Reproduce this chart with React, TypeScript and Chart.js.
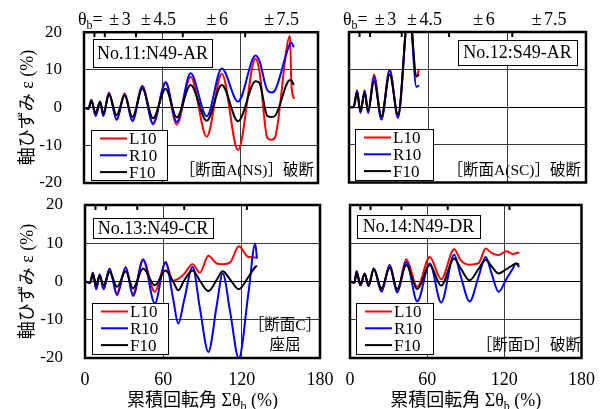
import React, { useEffect, useRef } from 'react';
import { Chart, registerables } from 'chart.js';

Chart.register(...registerables);

const PAGE_W = 606;
const PAGE_H = 409;
const FAM = "'Liberation Serif', 'Noto Sans CJK JP', serif";

// ---- cumulative rotation Σθb (%) and axial strain ε (%) per specimen ----

// No.11 : N49-AR
const x11 = [0, 3.5, 5.6, 9, 12.3, 14.9, 19.2, 25.1, 31.3, 37.2, 44.9, 53.1, 62.8, 71.3, 82, 94.4, 106, 118.5, 132, 135, 141, 144.4, 147, 158.5, 159.5, 161.5];
const L11 = [0, -0.3, 2, -2, 1.6, -2, 4, -3, 3.8, -3.3, 5.8, -4.1, 6.5, -4.5, 8.2, -7.7, 9, -11.3, 13, 9.5, -8, -8.5, -7.8, 19, 6.5, 2.3];
const R11 = [0, -0.3, 2, -2.2, 1.6, -2.2, 3.8, -3.3, 3.5, -3.6, 5.5, -4.4, 6.8, -3.8, 9.1, -2.3, 10.4, 1.6, 13.8, 12.3, 4.6, 4.0, 4.6, 17.0, 17.3, 16.0];
const F11 = [0, -0.3, 1.8, -1.5, 1.5, -1.5, 3.5, -2, 3.2, -2.5, 5, -2.8, 5, -2.6, 6, -3.5, 6, -3.6, 7, 6.5, -2.2, -2.5, -2.2, 7.3, 7.2, 6.0];

// No.12 : S49-AR
const x12 = [0, 3.5, 6.1, 8.7, 11.9, 14.5, 19, 24.6, 30.9, 37.2, 45.6, 51.2, 53.2];
const L12 = [0, 0, 4.5, -1.3, 4.5, -1.3, 8.7, -3, 10, -2.5, 27, 8.2, 10.2];
const R12 = [0, 0, 4.3, -1.5, 4.3, -1.5, 8.1, -3.3, 9.8, -2.8, 27, 5.4, 5.8];
const F12 = [0, 0, 3.8, -1, 3.8, -1, 6.9, -2.4, 8.7, -1.9, 27, 8.2, 8.7];

// No.13 : N49-CR
const x13 = [0, 4, 6, 8.6, 11.2, 14.2, 18.8, 24.5, 31.2, 36.8, 44.5, 53.5, 61.7, 67.5, 71.4, 76, 82.4, 88, 94.5, 101, 105.5, 111.2, 117.8, 125.2, 130.4, 131.7];
const L13 = [0, -0.3, 2.3, -2, 1.8, -2, 3.2, -3, 3.5, -3.3, 5.5, -2.7, 4.8, 0.2, 0.7, 2, 4.5, 2.3, 6.7, 4.7, 4.5, 5, 9.2, 6.4, 6.3, 6.4];
const R13 = [0, -0.3, 2.3, -2, 1.8, -2, 3.4, -3.6, 3.8, -3.8, 5.8, -5.7, 5.1, -4.5, -11, -4.8, 3.8, -7, -18.4, -6, 2.1, -8, -20.1, -3, 9.9, 6];
const F13 = [0, -0.3, 2, -1, 1.5, -1, 2.5, -1.4, 2.7, -1.8, 3.4, -1, 2.9, 0, -2.3, 0.3, 2.9, 0.2, -2.5, 0.5, 2.7, 0.5, -2, 1.2, 3.8, 4.1];

// No.14 : N49-DR
const x14 = [0, 3.5, 5.1, 8.1, 11.4, 14.4, 18.5, 24.5, 30.9, 36.7, 43.8, 52.3, 62, 70.9, 81, 86, 93, 100, 105.5, 110, 115.5, 121.5, 126.6, 129, 131.6];
const L14 = [0, -0.3, 2.7, -1, 2.1, -1.2, 3.4, -2.4, 4.3, -2.6, 5.8, -1.4, 6.4, 0.6, 8.4, 5.6, 4.4, 4.8, 8.6, 7.5, 6.9, 7.9, 7.2, 7.4, 7.6];
const R14 = [0, -0.3, 2.7, -1, 2.1, -1.2, 3.4, -2.7, 4.3, -2.9, 5.1, -5.2, 4.7, -5.5, 7, 1.5, -5.2, 1.3, 6.4, 2.2, -2.7, 0.6, 3.4, 4.7, 3.8];
const F14 = [0, -0.3, 2.4, -0.8, 2, -1, 3.2, -1.8, 3.6, -2, 4.3, -2, 4.3, -1.1, 6, 3.5, 0.3, 3.3, 5.6, 4.0, 2.1, 3.2, 4.3, 4.7, 4.4];

// ---- axes, loading stages, legend ----
const X_MIN = 0;
const X_MAX = 180;
const X_STEP = 60;
const Y_MIN = -20;
const Y_MAX = 20;
const Y_STEP = 10;
const stageMarks = [8, 16, 40, 76, 124];
const thetaLabels = ['±3', '±4.5', '±6', '±7.5'];
const thetaLabelAt = [27.7, 57.3, 102.5, 152];
const seriesNames = ['L10', 'R10', 'F10'];
const seriesColors = ['#ff0000', '#0000ff', '#000000'];
const yTitle = '軸ひずみ ε (%)';
const xTitleMain = '累積回転角 Σθ';
const xTitleSub = 'b';
const xTitleTail = ' (%)';

type Rect = { l: number; t: number; r: number; b: number };
type Note = { text: string; x: number; y: number; align: CanvasTextAlign };
interface PanelSpec {
  name: string;
  xs: number[];
  series: number[][];
  area: Rect;
  yLabels: boolean;
  xLabels: boolean;
  topLabels: boolean;
  titleBox: Rect;
  legendBox: Rect;
  notes: Note[];
}

const panels: PanelSpec[] = [
  {
    name: 'No.11:N49-AR',
    xs: x11,
    series: [L11, R11, F11],
    area: { l: 84, t: 32, r: 318, b: 183 },
    yLabels: true,
    xLabels: false,
    topLabels: true,
    titleBox: { l: 93, t: 39, r: 212, b: 67 },
    legendBox: { l: 91, t: 130, r: 167, b: 180 },
    notes: [{ text: '［断面A(NS)］破断', x: 314, y: 175, align: 'right' }],
  },
  {
    name: 'No.12:S49-AR',
    xs: x12,
    series: [L12, R12, F12],
    area: { l: 349, t: 32, r: 586, b: 182.5 },
    yLabels: false,
    xLabels: false,
    topLabels: true,
    titleBox: { l: 458, t: 40, r: 577, b: 65 },
    legendBox: { l: 355, t: 129, r: 433, b: 180 },
    notes: [{ text: '［断面A(SC)］破断', x: 581, y: 175, align: 'right' }],
  },
  {
    name: 'No.13:N49-CR',
    xs: x13,
    series: [L13, R13, F13],
    area: { l: 85, t: 205, r: 320, b: 358 },
    yLabels: true,
    xLabels: true,
    topLabels: false,
    titleBox: { l: 93, t: 218, r: 213, b: 238 },
    legendBox: { l: 92, t: 303, r: 168, b: 354 },
    notes: [
      { text: '［断面C］', x: 285, y: 330, align: 'center' },
      { text: '座屈', x: 285, y: 350, align: 'center' },
    ],
  },
  {
    name: 'No.14:N49-DR',
    xs: x14,
    series: [L14, R14, F14],
    area: { l: 350, t: 205, r: 586, b: 358 },
    yLabels: false,
    xLabels: true,
    topLabels: false,
    titleBox: { l: 357, t: 215, r: 480, b: 238 },
    legendBox: { l: 356, t: 303, r: 433, b: 354 },
    notes: [{ text: '［断面D］破断', x: 581, y: 350, align: 'right' }],
  },
];

function font(size: number) {
  return `${size}px ${FAM}`;
}

// draws "±" and the amplitude with a small gap, centred on cx
function drawAmplitude(ctx: CanvasRenderingContext2D, text: string, cx: number, base: number) {
  const sign = text.slice(0, 1);
  const num = text.slice(1);
  const gap = 2.5;
  const ws = ctx.measureText(sign).width;
  const wn = ctx.measureText(num).width;
  const start = cx - (ws + gap + wn) / 2;
  ctx.textAlign = 'left';
  ctx.fillText(sign, start, base);
  ctx.fillText(num, start + ws + gap, base);
}

// Frame, stage marks, θb labels, title box, legend box, notes and x title
function decorPlugin(p: PanelSpec) {
  return {
    id: 'panelDecor',
    afterDraw(chart: any) {
      const { ctx, chartArea: a, scales } = chart;
      const xs = scales.x;
      ctx.save();
      ctx.fillStyle = '#000';
      ctx.strokeStyle = '#000';

      // loading stage marks hanging from the top frame
      ctx.lineWidth = 2;
      stageMarks.forEach((v) => {
        const px = xs.getPixelForValue(v);
        ctx.beginPath();
        ctx.moveTo(px, a.top);
        ctx.lineTo(px, a.top + 5);
        ctx.stroke();
      });

      // plot frame
      ctx.lineWidth = 2.5;
      ctx.strokeRect(a.left, a.top, a.right - a.left, a.bottom - a.top);

      // θb amplitude labels above the frame
      if (p.topLabels) {
        const base = a.top - 7;
        const x0 = a.left - 6;
        ctx.textAlign = 'left';
        ctx.textBaseline = 'alphabetic';
        ctx.font = font(18);
        ctx.fillText('θ', x0, base);
        const wt = ctx.measureText('θ').width;
        ctx.font = font(12);
        ctx.fillText('b', x0 + wt, base + 4);
        const wb = ctx.measureText('b').width;
        ctx.font = font(18);
        ctx.fillText('=', x0 + wt + wb, base);
        thetaLabels.forEach((t, i) => {
          drawAmplitude(ctx, t, xs.getPixelForValue(thetaLabelAt[i]), base);
        });
      }

      // specimen title box
      const tb = p.titleBox;
      ctx.fillStyle = '#fff';
      ctx.fillRect(tb.l, tb.t, tb.r - tb.l, tb.b - tb.t);
      ctx.lineWidth = 1;
      ctx.strokeStyle = '#000';
      ctx.strokeRect(tb.l + 0.5, tb.t + 0.5, tb.r - tb.l, tb.b - tb.t);
      ctx.fillStyle = '#000';
      ctx.font = font(18);
      ctx.textAlign = 'center';
      ctx.textBaseline = 'middle';
      ctx.fillText(p.name, (tb.l + tb.r) / 2, (tb.t + tb.b) / 2 + 1);

      // legend box
      const lb = p.legendBox;
      ctx.fillStyle = '#fff';
      ctx.fillRect(lb.l, lb.t, lb.r - lb.l, lb.b - lb.t);
      ctx.strokeRect(lb.l + 0.5, lb.t + 0.5, lb.r - lb.l, lb.b - lb.t);
      ctx.font = font(17);
      ctx.textAlign = 'left';
      ctx.textBaseline = 'middle';
      seriesNames.forEach((n, i) => {
        const y = lb.t + 8.5 + 16.8 * i;
        ctx.strokeStyle = seriesColors[i];
        ctx.lineWidth = 2;
        ctx.beginPath();
        ctx.moveTo(lb.l + 9, y);
        ctx.lineTo(lb.l + 36, y);
        ctx.stroke();
        ctx.fillStyle = '#000';
        ctx.fillText(n, lb.l + 38, y + 1);
      });

      // failure mode notes
      ctx.fillStyle = '#000';
      ctx.font = font(15.5);
      ctx.textBaseline = 'alphabetic';
      p.notes.forEach((n) => {
        ctx.textAlign = n.align;
        ctx.fillText(n.text, n.x, n.y);
      });

      // x axis title with subscript
      if (p.xLabels) {
        ctx.textAlign = 'left';
        ctx.font = font(18);
        const w1 = ctx.measureText(xTitleMain).width;
        const w3 = ctx.measureText(xTitleTail).width;
        ctx.font = font(12);
        const w2 = ctx.measureText(xTitleSub).width;
        const total = w1 + w2 + w3;
        const cx = (a.left + a.right) / 2;
        const start = cx - total / 2;
        const base = 406;
        ctx.font = font(18);
        ctx.fillText(xTitleMain, start, base);
        ctx.font = font(12);
        ctx.fillText(xTitleSub, start + w1, base + 4);
        ctx.font = font(18);
        ctx.fillText(xTitleTail, start + w1 + w2, base);
      }
      ctx.restore();
    },
  };
}

function Panel({ spec }: { spec: PanelSpec }) {
  const ref = useRef<HTMLCanvasElement | null>(null);
  useEffect(() => {
    if (!ref.current) return;
    const a = spec.area;
    const xAxisH = spec.xLabels ? PAGE_H - a.b : 0;
    const yAxisW = spec.yLabels ? a.l : 0;
    const gridColor = (c: any) => (c.tick && c.tick.value === 0 ? '#000' : '#3a3a3a');
    const chart = new Chart(ref.current, {
      type: 'line',
      data: {
        datasets: spec.series.map((ys, i) => ({
          label: seriesNames[i],
          data: spec.xs.map((x, k) => ({ x, y: ys[k] })),
          borderColor: seriesColors[i],
          backgroundColor: seriesColors[i],
          borderWidth: 2,
          pointRadius: 0,
          fill: false,
          cubicInterpolationMode: 'monotone' as const,
          order: 3 - i,
        })),
      },
      options: {
        animation: false,
        responsive: false,
        devicePixelRatio: 1,
        events: [],
        layout: {
          padding: {
            left: a.l - yAxisW,
            top: a.t,
            right: PAGE_W - a.r,
            bottom: PAGE_H - a.b - xAxisH,
          },
        },
        plugins: {
          legend: { display: false },
          tooltip: { enabled: false },
        },
        scales: {
          x: {
            type: 'linear',
            min: X_MIN,
            max: X_MAX,
            ticks: {
              stepSize: X_STEP,
              display: spec.xLabels,
              color: '#000',
              font: { family: FAM, size: 18 },
              padding: 11,
              maxRotation: 0,
              autoSkip: false,
            },
            grid: { color: gridColor, lineWidth: 1, drawTicks: false },
            border: { display: false },
            afterFit: (s: any) => {
              s.height = xAxisH;
            },
          },
          y: {
            type: 'linear',
            min: Y_MIN,
            max: Y_MAX,
            ticks: {
              stepSize: Y_STEP,
              display: spec.yLabels,
              color: '#000',
              font: { family: FAM, size: 17 },
              padding: 22,
            },
            title: {
              display: spec.yLabels,
              text: yTitle,
              color: '#000',
              font: { family: FAM, size: 18 },
              padding: { top: 17, bottom: 0 },
            },
            grid: { color: gridColor, lineWidth: 1, drawTicks: false },
            border: { display: false },
            afterFit: (s: any) => {
              s.width = yAxisW;
            },
          },
        },
      },
      plugins: [decorPlugin(spec)],
    } as any);
    return () => chart.destroy();
  }, [spec]);
  return (
    <canvas
      ref={ref}
      width={PAGE_W}
      height={PAGE_H}
      style={{ position: 'absolute', left: 0, top: 0, width: PAGE_W, height: PAGE_H }}
    />
  );
}

export default function App() {
  return (
    <div
      style={{
        position: 'fixed',
        left: 0,
        top: 0,
        width: PAGE_W,
        height: PAGE_H,
        background: '#fff',
        overflow: 'hidden',
      }}
    >
      {panels.map((p) => (
        <Panel key={p.name} spec={p} />
      ))}
    </div>
  );
}
